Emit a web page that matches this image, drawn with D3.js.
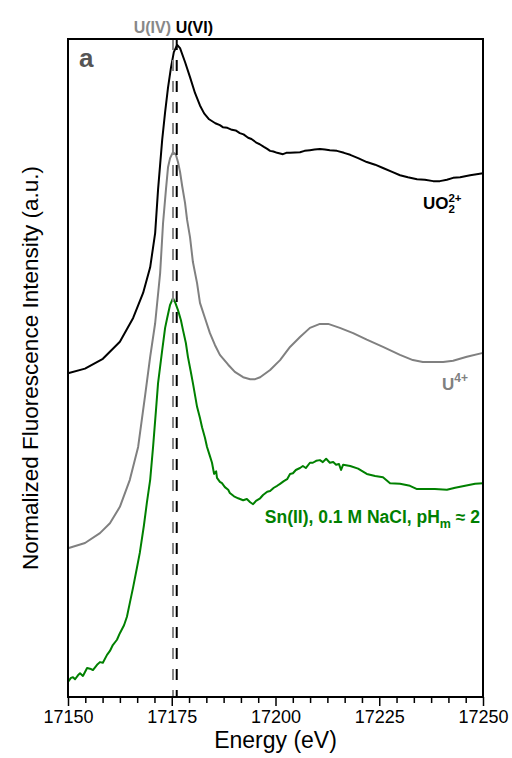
<!DOCTYPE html>
<html>
<head>
<meta charset="utf-8">
<script src="https://cdn.jsdelivr.net/npm/d3@7"></script>
<style>
  body { margin: 0; background: #fff; }
  text { font-family: "Liberation Sans", Arial, sans-serif; }
</style>
</head>
<body>
<div id="chart"></div>
<script>
// ==== Data ====
// [energy (eV), normalized fluorescence intensity, stacked offsets included]
const uo2Data = [
  [17150.0, 4.92], [17154.1, 4.99], [17158.4, 5.14], [17162.5, 5.40], [17165.7, 5.76],
  [17168.1, 6.14], [17169.8, 6.53], [17171.0, 7.05], [17171.7, 7.71], [17172.7, 8.47],
  [17173.4, 8.89], [17174.1, 9.26], [17174.8, 9.56], [17175.5, 9.80], [17176.3, 9.91],
  [17177.0, 9.86], [17178.2, 9.65], [17179.4, 9.42], [17180.6, 9.18], [17181.8, 8.99],
  [17182.8, 8.87], [17184.0, 8.78], [17185.5, 8.72], [17186.6, 8.69], [17187.3, 8.66],
  [17188.4, 8.65], [17189.5, 8.62], [17190.4, 8.61], [17191.4, 8.57], [17192.3, 8.55],
  [17193.4, 8.50], [17194.2, 8.48], [17195.5, 8.42], [17196.2, 8.40], [17197.2, 8.36],
  [17198.0, 8.33], [17198.7, 8.30], [17199.5, 8.29], [17200.4, 8.27], [17201.8, 8.25],
  [17202.6, 8.27], [17203.5, 8.27], [17205.9, 8.28], [17207.0, 8.30], [17208.3, 8.31],
  [17209.4, 8.32], [17210.7, 8.33], [17211.9, 8.32], [17213.1, 8.31], [17214.8, 8.30],
  [17216.5, 8.27], [17218.0, 8.24], [17219.9, 8.19], [17222.0, 8.13], [17224.0, 8.09],
  [17225.9, 8.04], [17228.1, 7.98], [17230.0, 7.93], [17231.9, 7.90], [17234.1, 7.87],
  [17236.0, 7.86], [17238.0, 7.84], [17239.6, 7.84], [17241.3, 7.86], [17242.8, 7.89],
  [17244.5, 7.90], [17246.9, 7.93], [17250.0, 7.96]
];

const u4Data = [
  [17150.0, 2.26], [17154.1, 2.34], [17157.7, 2.49], [17160.1, 2.64], [17162.5, 2.89],
  [17164.9, 3.30], [17166.9, 3.80], [17168.6, 4.59], [17169.8, 5.17], [17171.0, 5.68],
  [17172.2, 6.44], [17172.9, 7.20], [17173.6, 7.71], [17174.1, 8.05], [17174.6, 8.19],
  [17175.3, 8.28], [17176.0, 8.24], [17176.5, 8.13], [17177.0, 7.98], [17177.5, 7.77],
  [17178.2, 7.51], [17178.7, 7.25], [17179.4, 6.99], [17180.1, 6.61], [17181.1, 6.29],
  [17181.8, 5.99], [17183.0, 5.76], [17184.2, 5.53], [17185.4, 5.35], [17186.6, 5.20],
  [17188.6, 5.05], [17190.2, 4.94], [17192.2, 4.86], [17193.9, 4.83], [17195.1, 4.83],
  [17196.3, 4.86], [17198.7, 4.97], [17201.1, 5.12], [17203.5, 5.32], [17205.9, 5.47],
  [17208.3, 5.61], [17210.7, 5.67], [17212.7, 5.67], [17215.5, 5.61], [17218.7, 5.53],
  [17222.0, 5.43], [17225.9, 5.32], [17230.0, 5.20], [17233.1, 5.12], [17235.5, 5.09],
  [17238.0, 5.09], [17240.4, 5.09], [17242.8, 5.11], [17246.1, 5.17], [17250.0, 5.23]
];

const snData = [
  [17150.0, 0.23], [17150.7, 0.29], [17151.2, 0.30], [17151.7, 0.27], [17152.4, 0.33],
  [17152.9, 0.36], [17153.6, 0.32], [17154.6, 0.44], [17155.3, 0.43], [17156.0, 0.41],
  [17157.0, 0.49], [17157.7, 0.53], [17158.4, 0.52], [17159.4, 0.64], [17160.1, 0.70],
  [17160.8, 0.79], [17161.8, 0.87], [17162.5, 0.97], [17163.5, 1.09], [17164.2, 1.22],
  [17164.9, 1.43], [17165.7, 1.67], [17166.6, 1.96], [17167.3, 2.19], [17168.3, 2.61],
  [17169.0, 2.95], [17169.8, 3.30], [17170.5, 3.80], [17171.2, 4.36], [17171.7, 4.77],
  [17172.2, 5.02], [17172.7, 5.27], [17173.4, 5.61], [17173.9, 5.76], [17174.6, 5.96],
  [17175.3, 6.06], [17175.8, 6.00], [17176.5, 5.88], [17177.2, 5.73], [17177.7, 5.58],
  [17178.4, 5.38], [17178.9, 5.17], [17179.6, 4.94], [17180.1, 4.77], [17181.1, 4.41],
  [17181.8, 4.24], [17182.3, 4.10], [17183.0, 3.94], [17183.5, 3.80], [17184.2, 3.66],
  [17184.7, 3.56], [17185.2, 3.39], [17185.7, 3.43], [17185.9, 3.33], [17186.6, 3.27],
  [17187.1, 3.25], [17187.8, 3.19], [17188.6, 3.15], [17189.0, 3.10], [17190.0, 3.05],
  [17191.0, 3.02], [17192.2, 2.99], [17193.1, 3.01], [17193.9, 2.96], [17194.6, 2.93],
  [17195.3, 2.98], [17196.3, 3.02], [17197.0, 3.07], [17198.0, 3.12], [17198.7, 3.13],
  [17199.6, 3.18], [17200.4, 3.21], [17201.1, 3.24], [17202.0, 3.28], [17202.8, 3.31],
  [17203.5, 3.39], [17204.2, 3.40], [17204.9, 3.45], [17205.9, 3.48], [17206.6, 3.51],
  [17207.3, 3.48], [17208.3, 3.56], [17209.0, 3.56], [17209.8, 3.59], [17210.7, 3.60],
  [17211.4, 3.57], [17212.2, 3.62], [17213.1, 3.56], [17213.9, 3.57], [17214.6, 3.53],
  [17215.3, 3.54], [17215.8, 3.45], [17216.3, 3.53], [17218.0, 3.51], [17219.9, 3.47],
  [17222.0, 3.39], [17224.0, 3.36], [17225.9, 3.34], [17227.6, 3.25], [17230.0, 3.24],
  [17232.4, 3.21], [17234.1, 3.16], [17236.0, 3.16], [17238.4, 3.16], [17241.3, 3.15],
  [17243.3, 3.18], [17245.7, 3.21], [17248.1, 3.24], [17250.0, 3.25]
];

const xMajorTicks = [17150, 17175, 17200, 17225, 17250];
const edgeLines = [
  { name: "U(IV)", energy: 17175.3, color: "#888888" },
  { name: "U(VI)", energy: 17176.2, color: "#000000" }
];

// ==== Chart ====
const svgW = 512, svgH = 758;
const margin = { top: 39, right: 29, bottom: 61, left: 68 };
const width = svgW - margin.left - margin.right;
const height = svgH - margin.top - margin.bottom;

const svg = d3.select("#chart")
  .append("svg")
  .attr("width", svgW)
  .attr("height", svgH);

const g = svg.append("g").attr("transform", `translate(${margin.left},${margin.top})`);

const x = d3.scaleLinear().domain([17150, 17250]).range([0, width]);
const y = d3.scaleLinear().domain([0, 10]).range([height, 0]);

// minor ticks: 5 per major interval
const xMinorTicks = [];
for (let i = 0; i < xMajorTicks.length - 1; i++) {
  const step = (xMajorTicks[i + 1] - xMajorTicks[i]) / 6;
  for (let k = 1; k < 6; k++) xMinorTicks.push(xMajorTicks[i] + k * step);
}

g.append("g")
  .attr("transform", `translate(0,${height})`)
  .call(d3.axisBottom(x).tickValues(xMinorTicks).tickSize(6).tickFormat(""))
  .call(a => a.select(".domain").remove())
  .selectAll("line").attr("stroke", "#000").attr("stroke-width", 1.5);

const xAxis = g.append("g")
  .attr("transform", `translate(0,${height})`)
  .call(d3.axisBottom(x).tickValues(xMajorTicks).tickSize(9).tickPadding(4).tickFormat(d3.format("d")));
xAxis.select(".domain").remove();
xAxis.selectAll("line").attr("stroke", "#000").attr("stroke-width", 1.5);
xAxis.selectAll("text")
  .attr("fill", "#000")
  .style("font-size", "18px");

// curves
const line = d3.line()
  .x(d => x(d[0]))
  .y(d => y(d[1]));

g.append("path")
  .datum(uo2Data)
  .attr("fill", "none")
  .attr("stroke", "#000")
  .attr("stroke-width", 2)
  .attr("stroke-linejoin", "round")
  .attr("d", line);

g.append("path")
  .datum(u4Data)
  .attr("fill", "none")
  .attr("stroke", "#808080")
  .attr("stroke-width", 2)
  .attr("stroke-linejoin", "round")
  .attr("d", line);

g.append("path")
  .datum(snData)
  .attr("fill", "none")
  .attr("stroke", "#008000")
  .attr("stroke-width", 2)
  .attr("stroke-linejoin", "round")
  .attr("d", line);

// edge position lines
g.selectAll("line.edge")
  .data(edgeLines)
  .enter()
  .append("line")
  .attr("class", "edge")
  .attr("x1", d => x(d.energy))
  .attr("x2", d => x(d.energy))
  .attr("y1", 0)
  .attr("y2", height)
  .attr("stroke", d => d.color)
  .attr("stroke-width", 2)
  .attr("stroke-dasharray", "11,10");

// frame
g.append("rect")
  .attr("width", width)
  .attr("height", height)
  .attr("fill", "none")
  .attr("stroke", "#000")
  .attr("stroke-width", 2);

// edge labels on top
g.append("text")
  .attr("x", x(edgeLines[0].energy) - 2)
  .attr("y", -6)
  .attr("text-anchor", "end")
  .attr("fill", "#888888")
  .style("font-size", "16px")
  .style("font-weight", "bold")
  .text(edgeLines[0].name);

g.append("text")
  .attr("x", x(edgeLines[1].energy) - 1)
  .attr("y", -6)
  .attr("text-anchor", "start")
  .attr("fill", "#000")
  .style("font-size", "16px")
  .style("font-weight", "bold")
  .text(edgeLines[1].name);

// panel letter
g.append("text")
  .attr("x", 11)
  .attr("y", 28)
  .attr("fill", "#555")
  .style("font-size", "26px")
  .style("font-weight", "bold")
  .text("a");

// series labels
const uoLabel = g.append("text")
  .attr("x", 355)
  .attr("y", 170)
  .attr("fill", "#000")
  .style("font-size", "17px")
  .style("font-weight", "bold");
uoLabel.append("tspan").text("UO");
uoLabel.append("tspan").attr("dy", 4).style("font-size", "11.5px").text("2");
uoLabel.append("tspan").attr("dx", -6.5).attr("dy", -11).style("font-size", "11.5px").text("2+");

const u4Label = g.append("text")
  .attr("x", 374)
  .attr("y", 351)
  .attr("fill", "#808080")
  .style("font-size", "17px")
  .style("font-weight", "bold");
u4Label.append("tspan").text("U");
u4Label.append("tspan").attr("dy", -8).style("font-size", "12px").text("4+");

const snLabel = g.append("text")
  .attr("x", 412)
  .attr("y", 484)
  .attr("text-anchor", "end")
  .attr("fill", "#008000")
  .style("font-size", "17.5px")
  .style("font-weight", "bold");
snLabel.append("tspan").text("Sn(II), 0.1 M NaCl, pH");
snLabel.append("tspan").attr("dy", 5).style("font-size", "12.5px").text("m");
snLabel.append("tspan").attr("dy", -5).text(" \u2248 2");

// axis titles
svg.append("text")
  .attr("x", margin.left + width / 2)
  .attr("y", 748)
  .attr("text-anchor", "middle")
  .attr("fill", "#000")
  .style("font-size", "23px")
  .text("Energy (eV)");

svg.append("text")
  .attr("transform", `translate(38,${margin.top + height / 2}) rotate(-90)`)
  .attr("text-anchor", "middle")
  .attr("fill", "#000")
  .style("font-size", "22.5px")
  .text("Normalized Fluorescence Intensity (a.u.)");
</script>
</body>
</html>
